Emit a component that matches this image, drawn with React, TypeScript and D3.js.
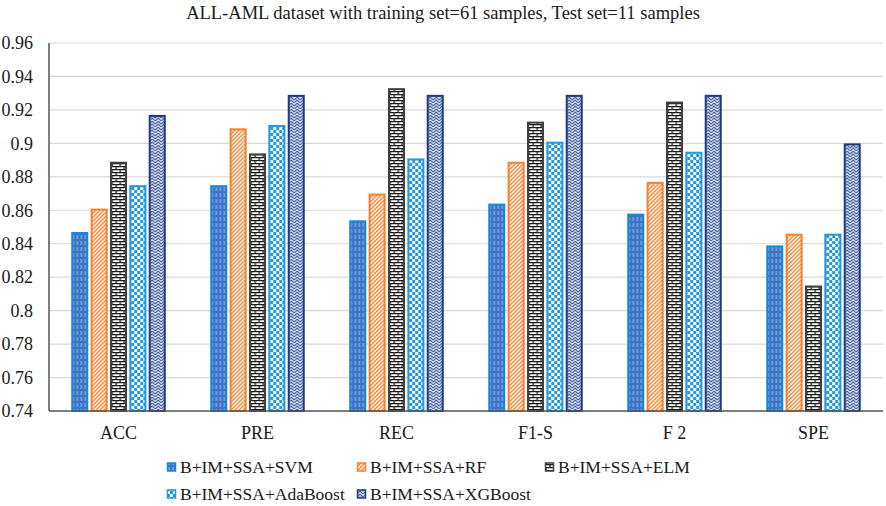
import * as d3 from "d3";

const categories = ["ACC", "PRE", "REC", "F1-S", "F 2", "SPE"];
const seriesNames = [
  "B+IM+SSA+SVM",
  "B+IM+SSA+RF",
  "B+IM+SSA+ELM",
  "B+IM+SSA+AdaBoost",
  "B+IM+SSA+XGBoost",
];
const svmValues = [0.847, 0.875, 0.854, 0.864, 0.858, 0.839];
const rfValues = [0.861, 0.909, 0.87, 0.889, 0.877, 0.846];
const elmValues = [0.889, 0.894, 0.933, 0.913, 0.925, 0.815];
const adaValues = [0.875, 0.911, 0.891, 0.901, 0.895, 0.846];
const xgbValues = [0.917, 0.929, 0.929, 0.929, 0.929, 0.9];
const yTicks = [0.74, 0.76, 0.78, 0.8, 0.82, 0.84, 0.86, 0.88, 0.9, 0.92, 0.94, 0.96];

const allValues = [svmValues, rfValues, elmValues, adaValues, xgbValues];
const strokes = ["#1689d6", "#f4822f", "#404040", "#1f9ae0", "#1f3b80"];

const width = 886;
const height = 506;
const margin = { top: 43, right: 3, bottom: 95, left: 49 };
const fontStyle = { fontFamily: "Liberation Serif" };

const Patterns = () => (
  <defs>
    {/* SVM: blue with light vertical dashes */}
    <pattern id="p0" width="4" height="6" patternUnits="userSpaceOnUse">
      <rect width="4" height="6" fill="#3d74c9" />
      <rect x="1.5" y="0" width="1.2" height="4" fill="#8fb2e6" />
    </pattern>
    {/* RF: orange diagonal stripes */}
    <pattern id="p1" width="4" height="4" patternUnits="userSpaceOnUse">
      <rect width="4" height="4" fill="#fff" />
      <path d="M-1,1 l2,-2 M0,4 l4,-4 M3,5 l2,-2" stroke="#f4822f" strokeWidth="1.4" />
    </pattern>
    {/* ELM: black bricks */}
    <pattern id="p2" width="8" height="6" patternUnits="userSpaceOnUse">
      <rect width="8" height="6" fill="#fff" />
      <path d="M0,0.6 H8 M0,3.6 H8 M1,0 V3 M5,3 V6" stroke="#1a1a1a" strokeWidth="1.3" />
    </pattern>
    {/* AdaBoost: light blue checker */}
    <pattern id="p3" width="6" height="6" patternUnits="userSpaceOnUse">
      <rect width="6" height="6" fill="#fff" />
      <rect x="0" y="0" width="3" height="3" fill="#1f9ae0" />
      <rect x="3" y="3" width="3" height="3" fill="#1f9ae0" />
    </pattern>
    {/* XGBoost: navy weave */}
    <pattern id="p4" width="6" height="6" patternUnits="userSpaceOnUse">
      <rect width="6" height="6" fill="#e6eaf3" />
      <path d="M0,3 L3,0 L6,3 M0,6 L3,3 L6,6" stroke="#3b5798" strokeWidth="1.1" fill="none" />
    </pattern>
  </defs>
);

const App = () => {
  const innerW = width - margin.left - margin.right;
  const innerH = height - margin.top - margin.bottom;

  const x0 = d3
    .scaleBand()
    .domain(categories)
    .range([0, innerW])
    .paddingInner(0.32)
    .paddingOuter(0.16);
  const x1 = d3
    .scaleBand()
    .domain(seriesNames)
    .range([0, x0.bandwidth()])
    .paddingInner(0.12);
  const y = d3.scaleLinear().domain([0.74, 0.96]).range([innerH, 0]);

  const legendCols = [167, 357, 545];
  const legendRows = [467, 494];

  return (
    <svg
      width={width}
      height={height}
      style={{ position: "absolute", left: 0, top: 0, background: "#fff" }}
    >
      <Patterns />
      <text x={443} y={19} textAnchor="middle" fontSize={18.5} fill="#1a1a1a" style={fontStyle}>
        ALL-AML dataset with training set=61 samples, Test set=11 samples
      </text>
      <g transform={`translate(${margin.left},${margin.top})`}>
        {yTicks.map((t) => (
          <g key={t}>
            {t > 0.74 && (
              <line x1={0} x2={innerW} y1={y(t)} y2={y(t)} stroke="#d9d9d9" strokeWidth={1.2} />
            )}
            <text
              x={-16}
              y={y(t)}
              dy="0.35em"
              textAnchor="end"
              fontSize={18}
              fill="#1a1a1a"
              style={fontStyle}
            >
              {d3.format("")(+t.toFixed(2))}
            </text>
          </g>
        ))}
        {categories.map((c, ci) => (
          <g key={c} transform={`translate(${x0(c)},0)`}>
            {seriesNames.map((s, si) => {
              const v = allValues[si][ci];
              return (
                <rect
                  key={s}
                  x={x1(s)! + 1}
                  y={y(v) + 1}
                  width={x1.bandwidth() - 2}
                  height={innerH - y(v) - 1}
                  fill={`url(#p${si})`}
                  stroke={strokes[si]}
                  strokeWidth={2}
                />
              );
            })}
            <text
              x={x0.bandwidth() / 2}
              y={innerH + 22}
              dy="0.35em"
              textAnchor="middle"
              fontSize={18}
              fill="#1a1a1a"
              style={fontStyle}
            >
              {c}
            </text>
          </g>
        ))}
        <line x1={0} x2={0} y1={0} y2={innerH} stroke="#555" strokeWidth={1.5} />
        <line x1={0} x2={innerW} y1={innerH} y2={innerH} stroke="#555" strokeWidth={1.5} />
      </g>
      {seriesNames.map((s, si) => {
        const lx = legendCols[si % 3];
        const ly = legendRows[Math.floor(si / 3)];
        return (
          <g key={s} transform={`translate(${lx},${ly})`}>
            <rect
              x={0.5}
              y={-4}
              width={8}
              height={8}
              fill={`url(#p${si})`}
              stroke={strokes[si]}
              strokeWidth={1.5}
            />
            <text x={13} y={0} dy="0.35em" fontSize={17.5} fill="#1a1a1a" style={fontStyle}>
              {s}
            </text>
          </g>
        );
      })}
    </svg>
  );
};

export default App;
